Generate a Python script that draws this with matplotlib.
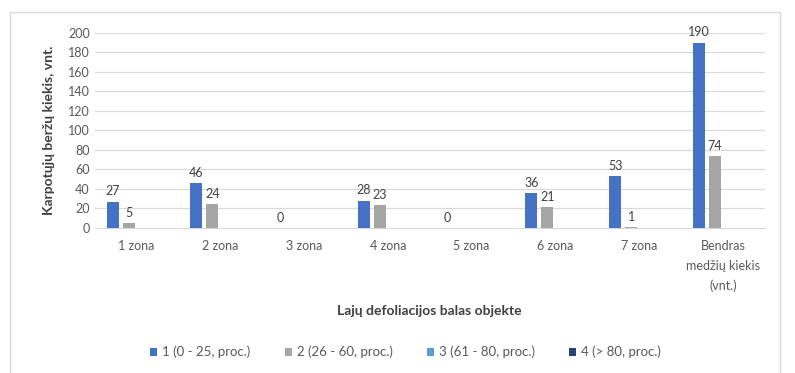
import numpy as np
import matplotlib.pyplot as plt
from matplotlib.patches import Rectangle, Patch

plt.rcParams['font.family'] = ['Lato', 'DejaVu Sans']

# Kategorijos ir serijos
zonos = ["1 zona", "2 zona", "3 zona", "4 zona", "5 zona", "6 zona", "7 zona",
         "Bendras\nmedžių kiekis\n(vnt.)"]
serijos = ["1 (0 - 25, proc.)", "2 (26 - 60, proc.)", "3 (61 - 80, proc.)", "4 (> 80, proc.)"]
balas1 = [27, 46, 0, 28, 0, 36, 53, 190]
balas2 = [5, 24, None, 23, None, 21, 1, 74]
balas3 = [None] * 8
balas4 = [None] * 8
spalvos = ["#4472C4", "#A5A5A5", "#5B9BD5", "#264478"]

fig = plt.figure(figsize=(7.95, 3.73), dpi=100)
ax = fig.add_axes([0.119, 0.389, 0.843, 0.523])

# remelis aplink diagrama
fig.patches.append(Rectangle((0.013, -0.05), 0.968, 1.018, transform=fig.transFigure,
                             fill=False, edgecolor="#D9D9D9", linewidth=1.0))

x = np.arange(len(zonos))
plotis = 0.143
tarpas = 0.19
for i, (vals, spalva) in enumerate(zip([balas1, balas2, balas3, balas4], spalvos)):
    y = np.array([np.nan if v is None else v for v in vals], dtype=float)
    pos = x + (i - 1.5) * tarpas
    bars = ax.bar(pos, np.nan_to_num(y), width=plotis, color=spalva, zorder=3)
    for b, v in zip(bars, y):
        if np.isnan(v):
            b.set_visible(False)
            continue
        ax.annotate(f"{int(v)}", (b.get_x() + b.get_width() / 2, v), xytext=(0, 3),
                    textcoords="offset points", ha="center", va="bottom",
                    fontsize=9, color="#404040", annotation_clip=False)

ax.set_xlim(-0.5, len(zonos) - 0.5)
ax.set_ylim(0, 200)
ax.set_yticks(np.arange(0, 201, 20))
ax.yaxis.grid(True, color="#D9D9D9", linewidth=0.8, zorder=0)
ax.set_axisbelow(True)
for s in ["top", "right", "left"]:
    ax.spines[s].set_visible(False)
ax.spines["bottom"].set_color("#D9D9D9")
ax.tick_params(axis="both", length=0, labelsize=9, labelcolor="#595959")
ax.tick_params(axis="x", pad=9)
ax.set_xticks(x)
ax.set_xticklabels(zonos, linespacing=1.75)

ax.set_ylabel("Karpotųjų beržų kiekis, vnt.", fontsize=10, fontweight="bold",
              color="#404040", labelpad=9)
fig.text(0.54, 0.165, "Lajų defoliacijos balas objekte", ha="center", va="center",
         fontsize=10, fontweight="bold", color="#404040")

rankenos = [Patch(facecolor=c, label=s) for c, s in zip(spalvos, serijos)]
fig.legend(handles=rankenos, loc="center", bbox_to_anchor=(0.51, 0.056), ncol=4,
           frameon=False, fontsize=9.5, labelcolor="#595959", handlelength=0.55,
           handleheight=0.55, handletextpad=0.35, columnspacing=2.6)

fig.savefig("out.png", dpi=100)
